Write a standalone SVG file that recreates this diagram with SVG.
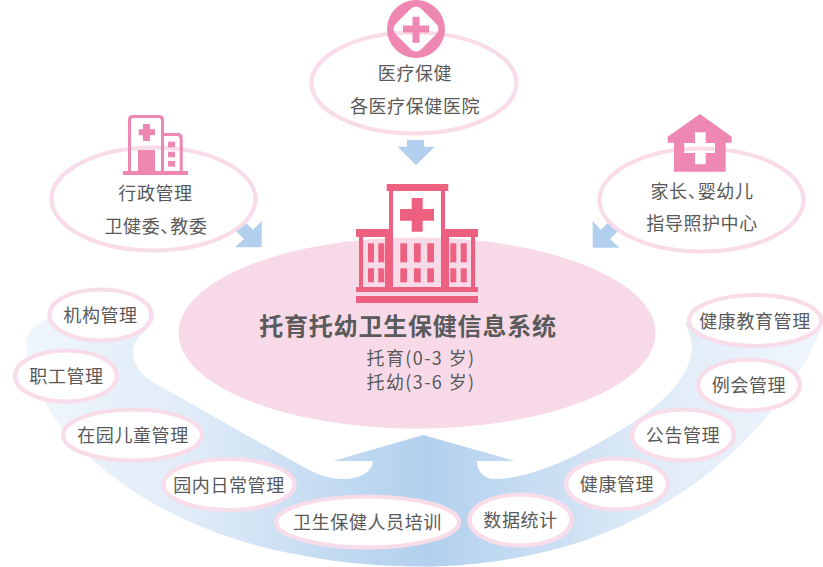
<svg xmlns="http://www.w3.org/2000/svg" width="823" height="567" viewBox="0 0 823 567">
<defs>
<linearGradient id="band" gradientUnits="userSpaceOnUse" x1="26" y1="0" x2="823" y2="0">
<stop offset="0" stop-color="#f0f6fd"/><stop offset="0.2" stop-color="#e0ecf8"/><stop offset="0.5" stop-color="#b2d0ed"/><stop offset="0.8" stop-color="#e0ecf8"/><stop offset="1" stop-color="#f0f6fd"/>
</linearGradient>
</defs>
<style>
.e{fill:#fff;stroke:#f9dcea;stroke-width:4.200}
text{font-family:"Noto Sans CJK SC","Noto Sans",sans-serif;fill:#595959;text-anchor:middle;font-size:18px;letter-spacing:.6px}
.t{font-size:24px;font-weight:700;letter-spacing:.8px;fill:#5a5a5a}
.s{letter-spacing:1.4px}
.d{letter-spacing:-8px}
.a{fill:#b2d0ed}
.p{fill:#ee87b2}
.r{fill:#ee6080}
</style>
<g id="connectors">
<path d="M50 318C36 322 26 332 26 345C30 420 130 525 300 555C340 563 380 566.500 423 566.500C470 566.500 515 560 560 548C680 515 780 430 823 325L685 323C688 330 692 340 692 347C690 395 620 432 580 453C550 468 520 479 493 479C483 478 477 471 477 461H515L423 435L333 461H373C372 472 360 479 343 479C330 479 315 474 300 465C255 440 190 403 167 390C150 381 134 372 133 352C133 344 138 336 147 330Z" fill="url(#band)"/>
<polygon class="a" points="407,140 424,140 424,146.700 434.700,146.700 416,165 397.700,146.700 407,146.700"/>
<polygon class="a" points="261.700,247.300 261.700,221 253,229.700 240,217 231,226 244,239 235,247.300"/>
<polygon class="a" points="592.700,247.700 592.700,221 601,229.700 614,217 623,226 610,239 619.300,247.700"/>
</g>
<g id="system">
<ellipse cx="417" cy="333" rx="238.500" ry="95.500" fill="#f8d9e8"/>
<g class="r">
<rect x="386.700" y="184" width="61.600" height="7"/>
<path fill-rule="evenodd" d="M389 191H445V229H478V237H475V287H478V292H356V287H359V237H356V229H389ZM393 191V287H441V191ZM363 237V287H385V237ZM449 237V287H471V237Z"/>
<path d="M411.700 198H422.700V209H434V220.700H422.700V231.700H411.700V220.700H400V209H411.700Z"/>
<rect x="356" y="296" width="122" height="7"/>
<rect x="368" y="243.300" width="6" height="19"/><rect x="378.300" y="243.300" width="6" height="19"/>
<rect x="368" y="268.300" width="6" height="14"/><rect x="378.300" y="268.300" width="6" height="14"/>
<rect x="400.300" y="243.300" width="6.700" height="19"/><rect x="414" y="243.300" width="6.700" height="19"/><rect x="427.300" y="243.300" width="6.700" height="19"/>
<rect x="400.300" y="268.300" width="6.700" height="14"/><rect x="414" y="268.300" width="6.700" height="14"/><rect x="427.300" y="268.300" width="6.700" height="14"/>
<rect x="450.300" y="243.300" width="6" height="19"/><rect x="460.700" y="243.300" width="6" height="19"/>
<rect x="450.300" y="268.300" width="6" height="14"/><rect x="460.700" y="268.300" width="6" height="14"/>
</g>
<text class="t" x="408" y="334.500">托育托幼卫生保健信息系统</text>
<text class="s" x="421" y="365">托育(0-3 岁)</text>
<text class="s" x="421" y="388.500">托幼(3-6 岁)</text>
</g>
<g id="medical">
<ellipse class="e" cx="414" cy="83" rx="102.500" ry="50.500"/>
<path class="p" fill-rule="evenodd" d="M416 0A29 29 0 1 1 416 58A29 29 0 1 1 416 0ZM410 9.500L396.500 23Q390.500 29 396.500 35L410 48.500Q416 54.500 422 48.500L435.500 35Q441.500 29 435.500 23L422 9.500Q416 3.500 410 9.500Z"/>
<path class="p" d="M412.500 16.700H419.500V25.500H429V32.500H419.500V42.700H412.500V32.500H403V25.500H412.500Z"/>
<text x="415" y="80">医疗保健</text>
<text x="415" y="113">各医疗保健医院</text>
</g>
<g id="admin">
<ellipse class="e" cx="153.500" cy="199" rx="102" ry="51.500"/>
<g class="p">
<path fill-rule="evenodd" d="M133 115H159Q164 115 164 120V133H178Q182.700 133 182.700 138V171H188V175H123V171H128V120Q128 115 133 115ZM131 171H161V121Q161 118 158 118H134Q131 118 131 121ZM164 136V171H179.700V139Q179.700 136 177 136Z"/>
<rect x="138" y="150" width="17" height="22"/>
<path d="M143 124H150V129.300H155V135.300H150V141H143V135.300H138.700V129.300H143Z"/>
<rect x="168" y="141.700" width="7" height="5.600"/><rect x="168" y="151.700" width="7" height="5.600"/><rect x="168" y="161" width="7" height="5.600"/>
</g>
<text x="155.500" y="199.500">行政管理</text>
<text x="156" y="232.500">卫健委<tspan class="d">、</tspan>教委</text>
</g>
<g id="family">
<ellipse class="e" cx="701.500" cy="200" rx="102" ry="51.500"/>
<path class="p" fill-rule="evenodd" d="M700 114L731.700 136.700V142.700H725.700V171.700H674V142.700H667.700V136.700ZM695 132.300V143H684.300V153H695V164.300H705.700V153H715V143H705.700V132.300Z"/>
<text x="702" y="197.500">家长<tspan class="d">、</tspan>婴幼儿</text>
<text x="702" y="229.500">指导照护中心</text>
</g>
<g id="n1"><ellipse class="e" cx="100.500" cy="315" rx="51" ry="25.500"/><text x="100.500" y="322">机构管理</text></g>
<g id="n2"><ellipse class="e" cx="66" cy="376" rx="51" ry="25.500"/><text x="66.500" y="383">职工管理</text></g>
<g id="n3"><ellipse class="e" cx="132.500" cy="435" rx="69.500" ry="25.500"/><text x="133" y="442">在园儿童管理</text></g>
<g id="n4"><ellipse class="e" cx="229" cy="484.500" rx="65.500" ry="25.500"/><text x="229" y="491.500">园内日常管理</text></g>
<g id="n5"><ellipse class="e" cx="367.500" cy="522" rx="91.500" ry="25.500"/><text x="367.500" y="529">卫生保健人员培训</text></g>
<g id="n6"><ellipse class="e" cx="520.500" cy="520" rx="51" ry="25.500"/><text x="520.500" y="527">数据统计</text></g>
<g id="n7"><ellipse class="e" cx="617" cy="484" rx="51" ry="25.500"/><text x="617" y="491">健康管理</text></g>
<g id="n8"><ellipse class="e" cx="683" cy="435" rx="51" ry="25.500"/><text x="683" y="442">公告管理</text></g>
<g id="n9"><ellipse class="e" cx="749" cy="385" rx="51" ry="25.500"/><text x="749" y="392">例会管理</text></g>
<g id="n10"><ellipse class="e" cx="755" cy="320.500" rx="66" ry="25.500"/><text x="755" y="327.500">健康教育管理</text></g>
</svg>
